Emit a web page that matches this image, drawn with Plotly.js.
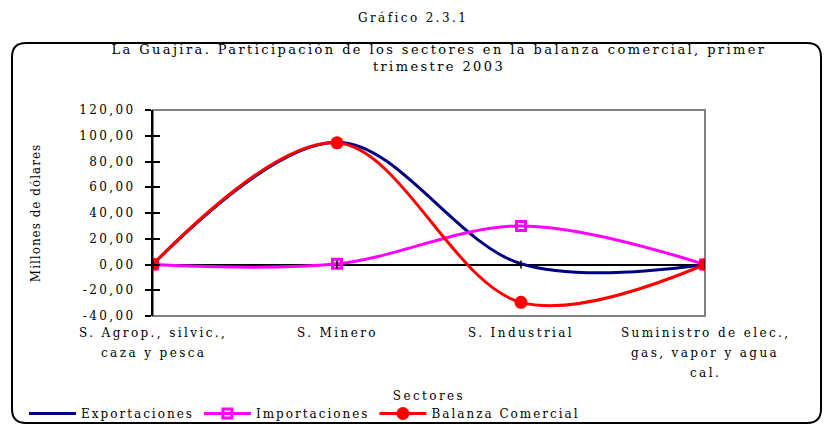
<!DOCTYPE html>
<html>
<head>
<meta charset="utf-8">
<script src="https://cdn.plot.ly/plotly-3.0.1.min.js"></script>
<style>
  html, body { margin: 0; padding: 0; background: #fff; overflow: hidden; }
  #chart { width: 826px; height: 424px; }
  text { letter-spacing: 2.4px; }
  .ytitle { letter-spacing: 1px; }
  .legendtext { letter-spacing: 2px; }
</style>
</head>
<body>
<div id="chart"></div>
<script>
// ---- Data ----
const categories = [
  "S. Agrop., silvic.,<br>caza y pesca",
  "S. Minero",
  "S. Industrial",
  "Suministro de elec.,<br>gas, vapor y agua<br>cal."
];
const exportaciones = [0.2, 95.0, 0.6, 0.0];
const importaciones = [0.0, 0.5, 30.0, 0.0];
const balanzaComercial = [0.2, 94.5, -29.4, 0.0];
const yTickVals = [120, 100, 80, 60, 40, 20, 0, -20, -40];
const yTickText = ["120,00", "100,00", "80,00", "60,00", "40,00", "20,00", "0,00", "-20,00", "-40,00"];

// ---- Layout geometry (pixels) ----
const W = 826, H = 424;
const PL = 153, PR = 705, PT = 110, PB = 316;
const pw = PR - PL, ph = PB - PT;
const px = v => (v - PL) / pw;
const py = v => (PB - v) / ph;

const FONT = "DejaVu Serif";
const idx = categories.map((_, i) => i);

const traces = [
  {
    name: "Exportaciones", x: idx, y: exportaciones, mode: "lines",
    line: { color: "#000080", width: 3, shape: "spline", smoothing: 1 }
  },
  {
    name: "Importaciones", x: idx, y: importaciones, mode: "lines+markers",
    line: { color: "#FF00FF", width: 3, shape: "spline", smoothing: 1 },
    marker: { symbol: "square-open", size: 9, color: "#FF00FF", line: { color: "#FF00FF", width: 3 } }
  },
  {
    name: "Balanza Comercial", x: idx, y: balanzaComercial, mode: "lines+markers",
    line: { color: "#FF0000", width: 3, shape: "spline", smoothing: 1 },
    marker: { symbol: "circle", size: 13, color: "#FF0000" }
  },
  {
    x: idx, y: importaciones, yaxis: "y2", mode: "lines", showlegend: false,
    hoverinfo: "skip", line: { width: 0, color: "rgba(0,0,0,0)" }
  }
];

// rounded frame path in paper coords
const fx0 = 12, fy0 = 43, fx1 = 821, fy1 = 423, r = 14;
const P = (x, y) => px(x).toFixed(5) + "," + py(y).toFixed(5);
const framePath =
  "M" + P(fx0 + r, fy0) + " L" + P(fx1 - r, fy0) + " Q" + P(fx1, fy0) + " " + P(fx1, fy0 + r) +
  " L" + P(fx1, fy1 - r) + " Q" + P(fx1, fy1) + " " + P(fx1 - r, fy1) +
  " L" + P(fx0 + r, fy1) + " Q" + P(fx0, fy1) + " " + P(fx0, fy1 - r) +
  " L" + P(fx0, fy0 + r) + " Q" + P(fx0, fy0) + " " + P(fx0 + r, fy0) + " Z";

const shapes = [
  { type: "rect", xref: "paper", yref: "paper", x0: 0, x1: 1, y0: 0, y1: 1,
    line: { color: "#808080", width: 2 }, layer: "below" },
  { type: "path", xref: "paper", yref: "paper", path: framePath,
    line: { color: "#000", width: 2 }, layer: "below" }
];
// small category tick marks crossing the horizontal zero axis
idx.forEach(i => {
  shapes.push({ type: "line", xref: "x", yref: "y", ysizemode: "pixel", yanchor: 0,
    x0: i, x1: i, y0: -4, y1: 4, line: { color: "#000", width: 1.5 }, layer: "above" });
});

// category labels (multi-line, Excel-like line spacing), anchored to the x scale
const annotations = [
  { text: "Gráfico 2.3.1", xref: "paper", yref: "paper", x: px(413), y: py(18),
    xanchor: "center", yanchor: "middle", showarrow: false,
    font: { family: FONT, size: 12, color: "#000" } }
];
categories.forEach((c, i) => {
  c.split("<br>").forEach((line, j) => {
    annotations.push({ text: line, xref: "x", yref: "paper", x: i, y: py(333 + 20 * j),
      xanchor: "center", yanchor: "middle", showarrow: false,
      font: { family: FONT, size: 12, color: "#000" } });
  });
});

const layout = {
  width: W, height: H,
  margin: { l: PL, r: W - PR, t: PT, b: H - PB, pad: 0, autoexpand: false },
  paper_bgcolor: "#fff", plot_bgcolor: "#fff",
  font: { family: FONT, size: 12, color: "#000" },
  showlegend: true,
  title: {
    text: "La Guajira. Participación de los sectores en la balanza comercial, primer<br>trimestre 2003",
    font: { family: FONT, size: 13, color: "#000" },
    xref: "container", yref: "container", x: 439 / W, xanchor: "center",
    y: 1 - 54 / H, yanchor: "top"
  },
  xaxis: {
    type: "linear", range: [0, 3], tickvals: idx, showticklabels: false,
    showgrid: false, zeroline: false, showline: false, ticks: "",
    title: { text: "Sectores", font: { family: FONT, size: 12, color: "#000" }, standoff: 75 },
    automargin: false, fixedrange: true
  },
  yaxis: {
    range: [-40, 120], tickvals: yTickVals, ticktext: yTickText,
    showgrid: false, zeroline: true, zerolinecolor: "#000", zerolinewidth: 2,
    showline: true, linecolor: "#000", linewidth: 2,
    ticks: "outside", ticklen: 6, tickwidth: 2, tickcolor: "#000",
    ticklabelstandoff: 7,
    tickfont: { family: FONT, size: 12, color: "#000" },
    title: { text: "Millones de dólares", font: { family: FONT, size: 12, color: "#000" }, standoff: 36 },
    automargin: false, fixedrange: true
  },
  yaxis2: {
    overlaying: "y", side: "left", range: [-40, 120], tickvals: yTickVals,
    showticklabels: false, showgrid: false, zeroline: false, showline: false,
    ticks: "inside", ticklen: 7, tickwidth: 2, tickcolor: "#000", fixedrange: true
  },
  legend: {
    orientation: "h", x: px(24), xanchor: "left", y: py(399), yanchor: "top",
    itemwidth: 47,
    font: { family: FONT, size: 12, color: "#000" }, bgcolor: "rgba(0,0,0,0)",
    traceorder: "normal"
  },
  annotations: annotations,
  shapes: shapes
};

Plotly.newPlot("chart", traces, layout, { staticPlot: true, displayModeBar: false });
</script>
</body>
</html>
